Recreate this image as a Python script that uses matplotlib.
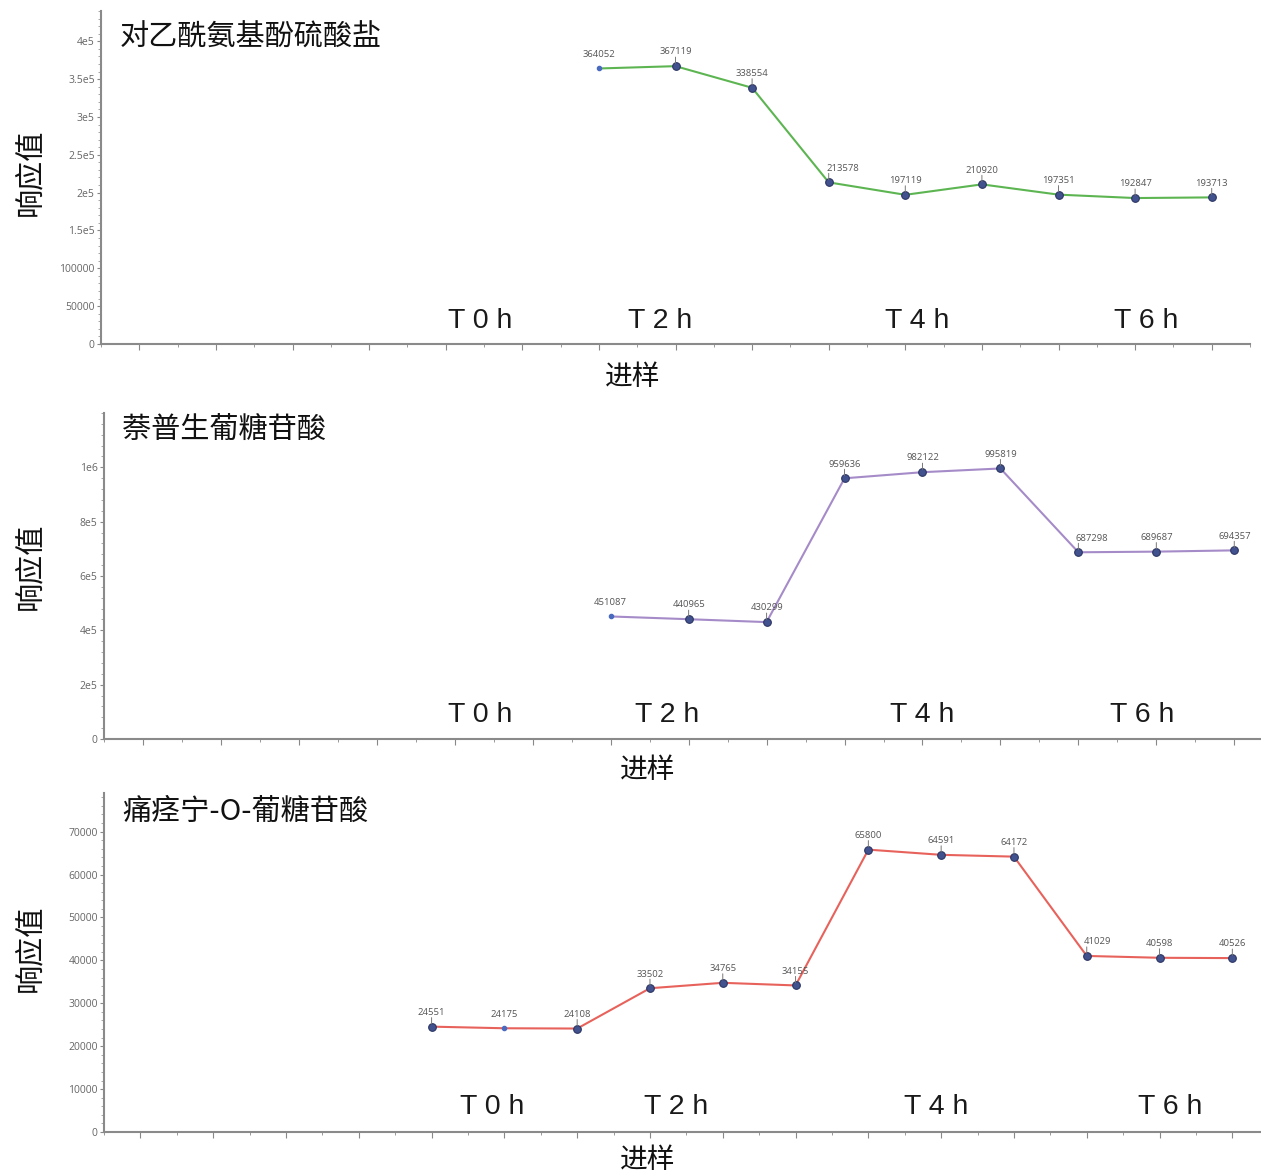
import matplotlib
matplotlib.use("Agg")
import matplotlib.pyplot as plt
from matplotlib.ticker import MultipleLocator

plt.rcParams['font.family'] = ['Noto Sans CJK SC', 'DejaVu Sans']

# ---------------- data ----------------
titles = ["对乙酰氨基酚硫酸盐", "萘普生葡糖苷酸", "痛痉宁-O-葡糖苷酸"]

x_top = [7, 8, 9, 10, 11, 12, 13, 14, 15]
y_top = [364052, 367119, 338554, 213578, 197119, 210920, 197351, 192847, 193713]

x_mid = [7, 8, 9, 10, 11, 12, 13, 14, 15]
y_mid = [451087, 440965, 430299, 959636, 982122, 995819, 687298, 689687, 694357]

x_bot = [5, 6, 7, 8, 9, 10, 11, 12, 13, 14, 15, 16]
y_bot = [24551, 24175, 24108, 33502, 34765, 34155, 65800, 64591, 64172, 41029, 40598, 40526]

# index of the "small dot" point in each series
small_pt = [0, 0, 1]

yticks_top = [0, 50000, 100000, 150000, 200000, 250000, 300000, 350000, 400000]
yticklabels_top = ["0", "50000", "100000", "1.5e5", "2e5", "2.5e5", "3e5", "3.5e5", "4e5"]
yticks_mid = [0, 200000, 400000, 600000, 800000, 1000000]
yticklabels_mid = ["0", "2e5", "4e5", "6e5", "8e5", "1e6"]
yticks_bot = [0, 10000, 20000, 30000, 40000, 50000, 60000, 70000]
yticklabels_bot = ["0", "10000", "20000", "30000", "40000", "50000", "60000", "70000"]

time_labels = ["T 0 h", "T 2 h", "T 4 h", "T 6 h"]
ylabel = "响应值"
xlabel = "进样"

# ---------------- layout / style ----------------
W, H = 1261, 1175
fig = plt.figure(figsize=(W / 100, H / 100), dpi=100)

def frac_rect(l, r, b, t):
    return [l / W, 1 - b / H, (r - l) / W, (b - t) / H]

panels = [
    dict(rect=frac_rect(101, 1250, 344, 11), x=x_top, y=y_top, color="#5db552",
         ylim=(0, 440000), xlim=(0.5, 15.5), yt=yticks_top, ytl=yticklabels_top,
         yminor=10000, tpos=[0.330, 0.487, 0.710, 0.910], ty=0.068,
         xl=(633, 377), yl=172, title_y=0.965),
    dict(rect=frac_rect(104, 1260, 739, 413), x=x_mid, y=y_mid, color="#a58bc8",
         ylim=(0, 1200000), xlim=(0.5, 15.33), yt=yticks_mid, ytl=yticklabels_mid,
         yminor=40000, tpos=[0.325, 0.487, 0.708, 0.898], ty=0.073,
         xl=(648, 770), yl=566, title_y=0.99),
    dict(rect=frac_rect(104, 1260, 1132, 793), x=x_bot, y=y_bot, color="#e8625c",
         ylim=(0, 79000), xlim=(0.5, 16.38), yt=yticks_bot, ytl=yticklabels_bot,
         yminor=2000, tpos=[0.336, 0.495, 0.720, 0.922], ty=0.074,
         xl=(648, 1160), yl=948, title_y=0.99),
]

label_offsets = {
    (0, 3): (10, 7), (1, 6): (10, 7), (2, 9): (8, 7),
}

for pi, p in enumerate(panels):
    ax = fig.add_axes(p["rect"])
    ax.plot(p["x"], p["y"], color=p["color"], lw=1.5, zorder=2)
    mx = [xv for i, xv in enumerate(p["x"]) if i != small_pt[pi]]
    my = [yv for i, yv in enumerate(p["y"]) if i != small_pt[pi]]
    ax.plot(mx, my, ls="none", marker="o", ms=5.5, mfc="#41528f", mec="#2b3563",
            mew=0.8, zorder=3)
    ax.plot([p["x"][small_pt[pi]]], [p["y"][small_pt[pi]]], ls="none", marker="o",
            ms=3, mfc="#4a6ac0", mec="#4a6ac0", zorder=3)
    for i, (xv, yv) in enumerate(zip(p["x"], p["y"])):
        dx, dy = label_offsets.get((pi, i), (0, 7))
        ax.annotate(str(yv), (xv, yv), xytext=(dx, dy), textcoords="offset points",
                    ha="center", va="bottom", fontsize=6.8, color="#555555",
                    family=["Open Sans", "DejaVu Sans"])
        if i != small_pt[pi]:
            ax.annotate("", (xv, yv), xytext=(0, 6.5), textcoords="offset points",
                        arrowprops=dict(arrowstyle="-", color="#777777", lw=0.7,
                                        shrinkA=0, shrinkB=2))
    ax.set_xlim(*p["xlim"])
    ax.set_ylim(*p["ylim"])
    ax.set_yticks(p["yt"])
    ax.set_yticklabels(p["ytl"], family=["Open Sans", "DejaVu Sans"])
    ax.yaxis.set_minor_locator(MultipleLocator(p["yminor"]))
    ax.xaxis.set_major_locator(MultipleLocator(1))
    ax.xaxis.set_minor_locator(MultipleLocator(0.5))
    ax.tick_params(axis="x", which="major", length=4, color="#888888", labelbottom=False)
    ax.tick_params(axis="x", which="minor", length=2.5, color="#888888")
    ax.tick_params(axis="y", which="major", length=3, color="#888888",
                   labelsize=7.5, labelcolor="#666666", pad=1.5)
    ax.tick_params(axis="y", which="minor", length=2, color="#999999")
    for s in ["top", "right"]:
        ax.spines[s].set_visible(False)
    for s in ["left", "bottom"]:
        ax.spines[s].set_color("#8a8a8a")
        ax.spines[s].set_linewidth(1.5)
    ax.text(0.016, p["title_y"], titles[pi], transform=ax.transAxes, ha="left", va="top",
            fontsize=21, color="#111111")
    for tx, tl in zip(p["tpos"], time_labels):
        ax.text(tx, p["ty"], tl, transform=ax.transAxes, ha="center", va="center",
                fontsize=20.5, color="#1a1a1a", fontweight="medium",
                family=["Liberation Sans", "DejaVu Sans"])
    fig.text(p["xl"][0] / W, 1 - p["xl"][1] / H, xlabel, ha="center", va="center",
             fontsize=20, color="#111111")
    fig.text(30 / W, 1 - p["yl"] / H, ylabel, ha="center", va="center",
             rotation=90, fontsize=21, color="#111111")

fig.savefig("out.png", dpi=100)
